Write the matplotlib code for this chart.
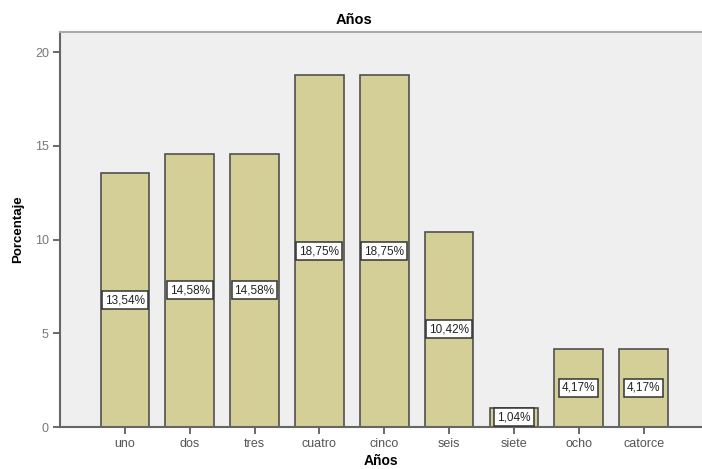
import matplotlib.pyplot as plt

# Distribución de años (porcentaje)
categorias = ["uno", "dos", "tres", "cuatro", "cinco", "seis", "siete", "ocho", "catorce"]
porcentajes = [13.54, 14.58, 14.58, 18.75, 18.75, 10.42, 1.04, 4.17, 4.17]
yticks = [0, 5, 10, 15, 20]

plt.rcParams['font.family'] = ['Liberation Sans', 'DejaVu Sans']

fig = plt.figure(figsize=(7.02, 4.69), dpi=100)
ax = fig.add_axes([60 / 702, 42 / 469, 1 - 60 / 702, 395 / 469])
ax.set_facecolor("#efefef")

x = range(len(categorias))
ax.bar(x, porcentajes, width=0.75, color="#d3cf97", edgecolor="#505050", linewidth=1.2, zorder=2)

# etiquetas con el porcentaje en medio de cada barra
for xi, v in zip(x, porcentajes):
    ax.text(xi, v / 2, f"{v:.2f}%".replace(".", ","), ha="center", va="center",
            fontsize=8.5, color="#222222", zorder=3,
            bbox=dict(boxstyle="square,pad=0.25", facecolor="white", edgecolor="#333333", linewidth=1.1))

ax.set_xlim(-1.0, 8.9)
ax.set_ylim(0, 21.07)
ax.set_xticks(list(x))
ax.set_xticklabels(categorias, fontsize=9, color="#555555")
ax.set_yticks(yticks)
ax.set_yticklabels([str(t) for t in yticks], fontsize=9, color="#777777")
ax.tick_params(axis="both", direction="out", length=5, width=1.2, color="#505050", pad=3)

for s in ["left", "bottom"]:
    ax.spines[s].set_color("#666666")
    ax.spines[s].set_linewidth(1.5)
ax.spines["top"].set_color("#aaaaaa")
ax.spines["top"].set_linewidth(1.5)
ax.spines["right"].set_visible(False)

ax.set_xlabel("Años", fontsize=10, fontweight="bold", labelpad=3)
ax.set_ylabel("Porcentaje", fontsize=9.5, fontweight="bold", labelpad=8)
fig.text(354 / 702, 1 - 20 / 469, "Años", ha="center", va="center", fontsize=10.5, fontweight="bold")

plt.savefig("out.png", dpi=100)
